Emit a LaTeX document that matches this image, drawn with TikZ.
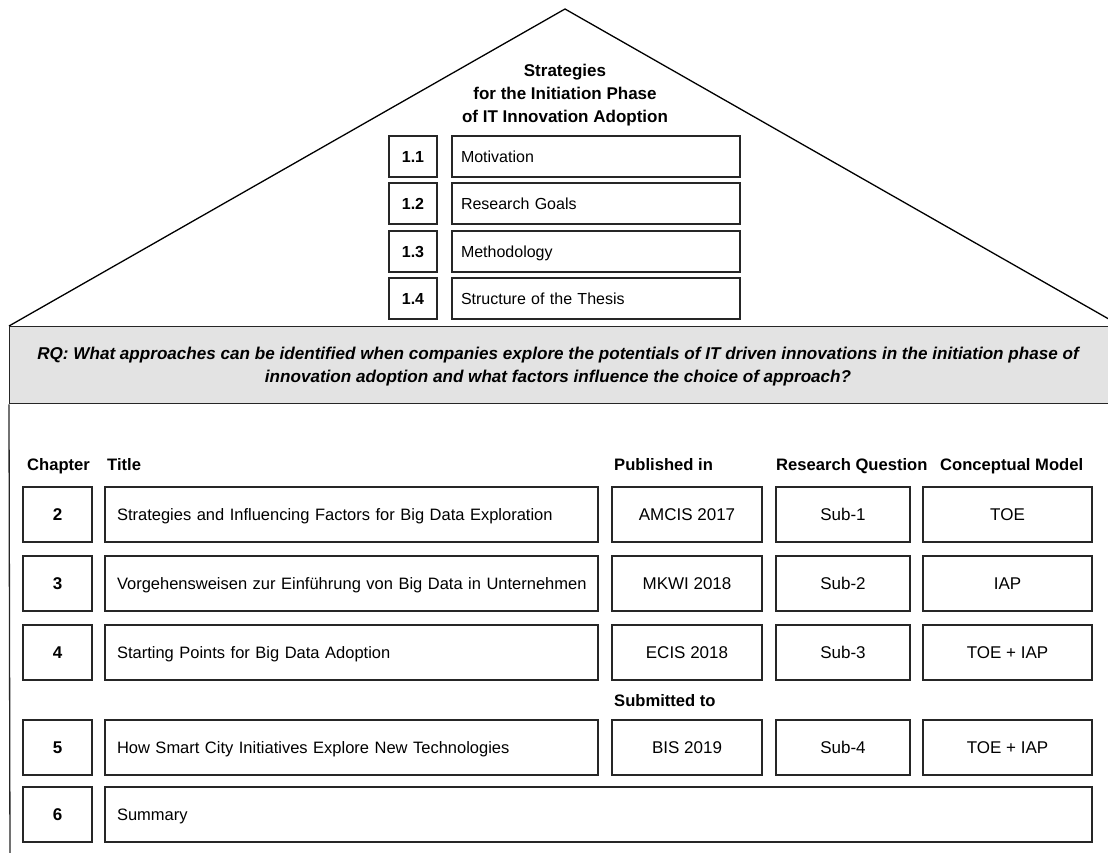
\documentclass[tikz,border=0pt]{standalone}
\usepackage{fontspec}
\setmainfont{Liberation Sans}
\begin{document}
\begin{tikzpicture}[x=1pt,y=-1pt,
  line/.style={line width=1.3pt, draw=black!85},
  cell/.style={line, minimum height=#1, inner sep=0pt, text height=12.2pt, text depth=0pt, font=\fontsize{17}{20}\selectfont},
  cell/.default=55,
  num/.style={cell=#1, font=\fontsize{17}{20}\selectfont\bfseries},
  num/.default=55,
  lcell/.style={cell=#1, align=left, inner xsep=12pt, font=\fontsize{16.5}{20}\selectfont},
  lcell/.default=55,
  rnum/.style={line, minimum height=41, minimum width=48, inner sep=0pt, text height=11.5pt, text depth=0pt, font=\fontsize{16}{19}\selectfont\bfseries},
  rcell/.style={line, minimum height=41, inner sep=0pt, inner xsep=9pt, text width=270, text height=11.5pt, text depth=0pt, align=left, font=\fontsize{16}{19}\selectfont},
  head/.style={anchor=base west, inner sep=0pt, font=\fontsize{16.6}{19}\selectfont\bfseries},
  roofttl/.style={align=center, inner sep=0pt, font=\fontsize{17}{23}\selectfont\bfseries},
  rq/.style={align=center, inner sep=0pt, font=\fontsize{17.1}{23}\selectfont\bfseries\itshape}
]
\useasboundingbox (0,0) rectangle (1108,853);
\begin{scope}
\clip (0,0) rectangle (1108,853);
% roof
\coordinate (roofL) at (9,326);
\coordinate (apex) at (565,9);
\coordinate (roofR) at (1121,326);
\draw[line width=1.3pt] (roofL) -- (apex) -- (roofR);
% grey band
\node[line, fill=black!11, minimum width=1116, minimum height=77, inner sep=0pt, anchor=north west] (band) at (9,326) {};
\coordinate (wallB) at (10,860);
\draw[line] (band.south west) -- (wallB);
\end{scope}

\node[roofttl] (rooftitle) at (565,95) {Strategies\\for the Initiation Phase\\of IT Innovation Adoption};

\node[rnum] (n11) at (413,156.5) {1.1};
\node[rcell] (t11) at (596,156.5) {Motivation};
\node[rnum] (n12) at (413,203.5) {1.2};
\node[rcell] (t12) at (596,203.5) {Research Goals};
\node[rnum] (n13) at (413,251.5) {1.3};
\node[rcell] (t13) at (596,251.5) {Methodology};
\node[rnum] (n14) at (413,298.5) {1.4};
\node[rcell] (t14) at (596,298.5) {Structure of the Thesis};

\node[rq] (rqtext) at (558,366.5) {RQ: What approaches can be identified when companies explore the potentials of IT driven innovations in the initiation phase of\\innovation adoption and what factors influence the choice of approach?};

% headers
\node[head] (hChap) at (27,470) {Chapter};
\node[head] (hTitle) at (107,470) {Title};
\node[head] (hPub) at (614,470) {Published in};
\node[head] (hRQ) at (776,470) {Research Question};
\node[head] (hCM) at (940,470) {Conceptual Model};
\node[head] (hSub) at (614,706) {Submitted to};

% rows
\node[num, minimum width=69] (c2) at (57.5,514.5) {2};
\node[lcell, text width=469] (ti2) at (351.5,514.5) {\mbox{Strategies and Influencing Factors for Big Data Exploration}};
\node[cell, minimum width=150] (p2) at (687,514.5) {AMCIS 2017};
\node[cell, minimum width=134] (r2) at (843,514.5) {Sub-1};
\node[cell, minimum width=169] (m2) at (1007.5,514.5) {TOE};

\node[num, minimum width=69] (c3) at (57.5,583.5) {3};
\node[lcell, text width=469] (ti3) at (351.5,583.5) {\mbox{Vorgehensweisen zur Einführung von Big Data in Unternehmen}};
\node[cell, minimum width=150] (p3) at (687,583.5) {MKWI 2018};
\node[cell, minimum width=134] (r3) at (843,583.5) {Sub-2};
\node[cell, minimum width=169] (m3) at (1007.5,583.5) {IAP};

\node[num, minimum width=69] (c4) at (57.5,652.5) {4};
\node[lcell, text width=469] (ti4) at (351.5,652.5) {\mbox{Starting Points for Big Data Adoption}};
\node[cell, minimum width=150] (p4) at (687,652.5) {ECIS 2018};
\node[cell, minimum width=134] (r4) at (843,652.5) {Sub-3};
\node[cell, minimum width=169] (m4) at (1007.5,652.5) {TOE + IAP};

\node[num, minimum width=69] (c5) at (57.5,747.5) {5};
\node[lcell, text width=469] (ti5) at (351.5,747.5) {\mbox{How Smart City Initiatives Explore New Technologies}};
\node[cell, minimum width=150] (p5) at (687,747.5) {BIS 2019};
\node[cell, minimum width=134] (r5) at (843,747.5) {Sub-4};
\node[cell, minimum width=169] (m5) at (1007.5,747.5) {TOE + IAP};

\node[num, minimum width=69] (c6) at (57.5,814.5) {6};
\node[lcell, text width=963] (ti6) at (598.5,814.5) {\mbox{Summary}};
\end{tikzpicture}
\end{document}
